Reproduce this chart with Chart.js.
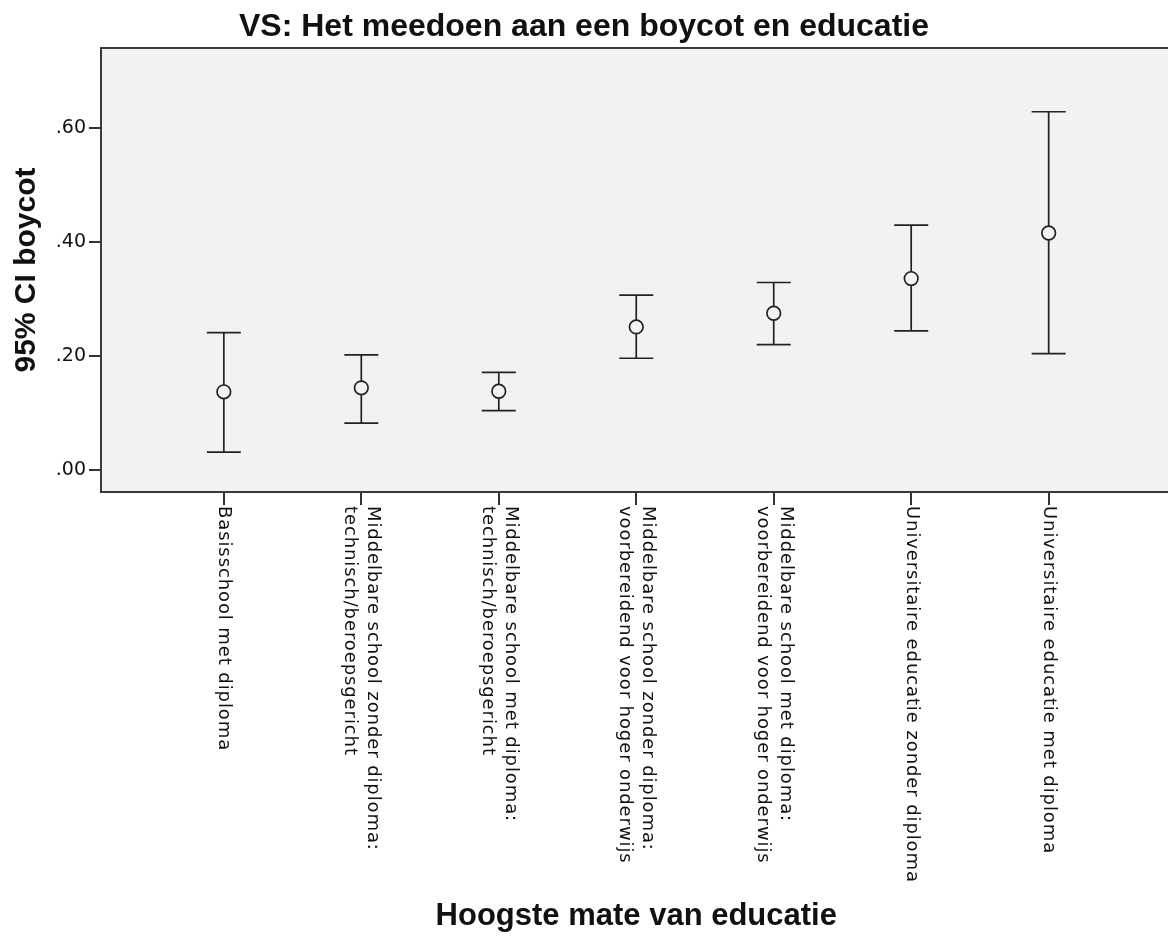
<!DOCTYPE html>
<html>
<head>
<meta charset="utf-8">
<script src="https://cdn.jsdelivr.net/npm/chart.js@4.4.1/dist/chart.umd.min.js"></script>
<style>
  html, body { margin: 0; padding: 0; background: #fff; overflow: hidden; }
  #wrap { width: 1180px; height: 936px; }
</style>
</head>
<body>
<div id="wrap"><canvas id="chart" width="1180" height="936"></canvas></div>
<script>
const categories = [
  ['Basisschool met diploma'],
  ['Middelbare school zonder diploma:', 'technisch/beroepsgericht'],
  ['Middelbare school met diploma:', 'technisch/beroepsgericht'],
  ['Middelbare school zonder diploma:', 'voorbereidend voor hoger onderwijs'],
  ['Middelbare school met diploma:', 'voorbereidend voor hoger onderwijs'],
  ['Universitaire educatie zonder diploma'],
  ['Universitaire educatie met diploma']
]
const means = [0.137, 0.144, 0.138, 0.251, 0.275, 0.336, 0.416]
const lowerCI = [0.031, 0.082, 0.104, 0.196, 0.220, 0.244, 0.204]
const upperCI = [0.241, 0.202, 0.171, 0.307, 0.329, 0.430, 0.629]
const yTicks = [0, 0.2, 0.4, 0.6]

const chartTitle = 'VS: Het meedoen aan een boycot en educatie'
const plotBg = '#f2f2f2'
const ink = '#222'

// grey plot background
const plotBackground = {
  id: 'plotBackground',
  beforeDraw(chart) {
    const { ctx, chartArea: a } = chart
    ctx.save()
    ctx.fillStyle = plotBg
    ctx.fillRect(a.left, a.top, a.right - a.left, a.bottom - a.top)
    ctx.restore()
  }
}

// whiskers with caps, drawn from the CI arrays through the scales
const errorBars = {
  id: 'errorBars',
  beforeDatasetsDraw(chart) {
    const { ctx, scales: { x, y } } = chart
    const half = 17
    ctx.save()
    ctx.strokeStyle = ink
    ctx.lineWidth = 1.7
    means.forEach((m, i) => {
      const px = x.getPixelForValue(i)
      const top = y.getPixelForValue(upperCI[i])
      const bot = y.getPixelForValue(lowerCI[i])
      ctx.beginPath()
      ctx.moveTo(px, top)
      ctx.lineTo(px, bot)
      ctx.moveTo(px - half, top)
      ctx.lineTo(px + half, top)
      ctx.moveTo(px - half, bot)
      ctx.lineTo(px + half, bot)
      ctx.stroke()
    })
    ctx.restore()
  }
}

// category labels rotated clockwise, reading top to bottom
const xLabels = {
  id: 'xLabels',
  afterDraw(chart) {
    const { ctx, chartArea: a, scales: { x } } = chart
    const lh = 23
    ctx.save()
    ctx.fillStyle = '#111'
    ctx.font = '18px "DejaVu Sans"'
    ctx.letterSpacing = '0.9px'
    ctx.textAlign = 'left'
    ctx.textBaseline = 'middle'
    categories.forEach((lines, i) => {
      ctx.save()
      ctx.translate(x.getPixelForValue(i), a.bottom + 14)
      ctx.rotate(Math.PI / 2)
      lines.forEach((line, j) => {
        ctx.fillText(line, 0, (j - (lines.length - 1) / 2) * lh)
      })
      ctx.restore()
    })
    ctx.restore()
  }
}

// frame and title
const frameAndTitle = {
  id: 'frameAndTitle',
  afterDraw(chart) {
    const { ctx, chartArea: a } = chart
    ctx.save()
    ctx.strokeStyle = '#3a3a3a'
    ctx.lineWidth = 2
    ctx.strokeRect(a.left, a.top, a.right - a.left, a.bottom - a.top)
    ctx.fillStyle = '#111'
    ctx.font = 'bold 32px "Liberation Sans"'
    ctx.textAlign = 'center'
    ctx.textBaseline = 'alphabetic'
    ctx.fillText(chartTitle, 584, 36)
    ctx.restore()
  }
}

new Chart(document.getElementById('chart'), {
  type: 'scatter',
  data: {
    datasets: [{
      data: means.map((m, i) => ({ x: i, y: m })),
      pointStyle: 'circle',
      pointRadius: 6.8,
      pointBorderWidth: 1.7,
      pointBorderColor: ink,
      pointBackgroundColor: plotBg,
      showLine: false
    }]
  },
  options: {
    responsive: false,
    devicePixelRatio: 1,
    animation: false,
    layout: { padding: { top: 48, right: 7, bottom: 0, left: 0 } },
    plugins: {
      legend: { display: false },
      tooltip: { enabled: false }
    },
    scales: {
      x: {
        type: 'linear',
        min: -0.8935,
        max: categories.length - 1 + 0.8935,
        afterBuildTicks: scale => {
          scale.ticks = categories.map((c, i) => ({ value: i }))
        },
        afterFit: scale => { scale.height = 444 },
        ticks: { display: false },
        grid: { drawOnChartArea: false, drawTicks: true, tickLength: 13, color: '#333', lineWidth: 2 },
        border: { display: false },
        title: {
          display: true,
          text: 'Hoogste mate van educatie',
          color: '#111',
          font: { family: 'Liberation Sans', size: 31, weight: 'bold' },
          padding: { top: 0, bottom: 1 }
        }
      },
      y: {
        min: -0.039,
        max: 0.741,
        afterBuildTicks: scale => {
          scale.ticks = yTicks.map(v => ({ value: v }))
        },
        afterFit: scale => { scale.width = 101 },
        ticks: {
          padding: 3,
          color: '#111',
          font: { family: 'DejaVu Sans', size: 19 },
          callback: v => v.toFixed(2).replace(/^0/, '')
        },
        grid: { drawOnChartArea: false, drawTicks: true, tickLength: 12, color: '#333', lineWidth: 2 },
        border: { display: false },
        title: {
          display: true,
          text: '95% CI boycot',
          color: '#111',
          font: { family: 'Liberation Sans', size: 30, weight: 'bold' },
          padding: { top: 9, bottom: 0 }
        }
      }
    }
  },
  plugins: [plotBackground, errorBars, xLabels, frameAndTitle]
})
</script>
</body>
</html>
